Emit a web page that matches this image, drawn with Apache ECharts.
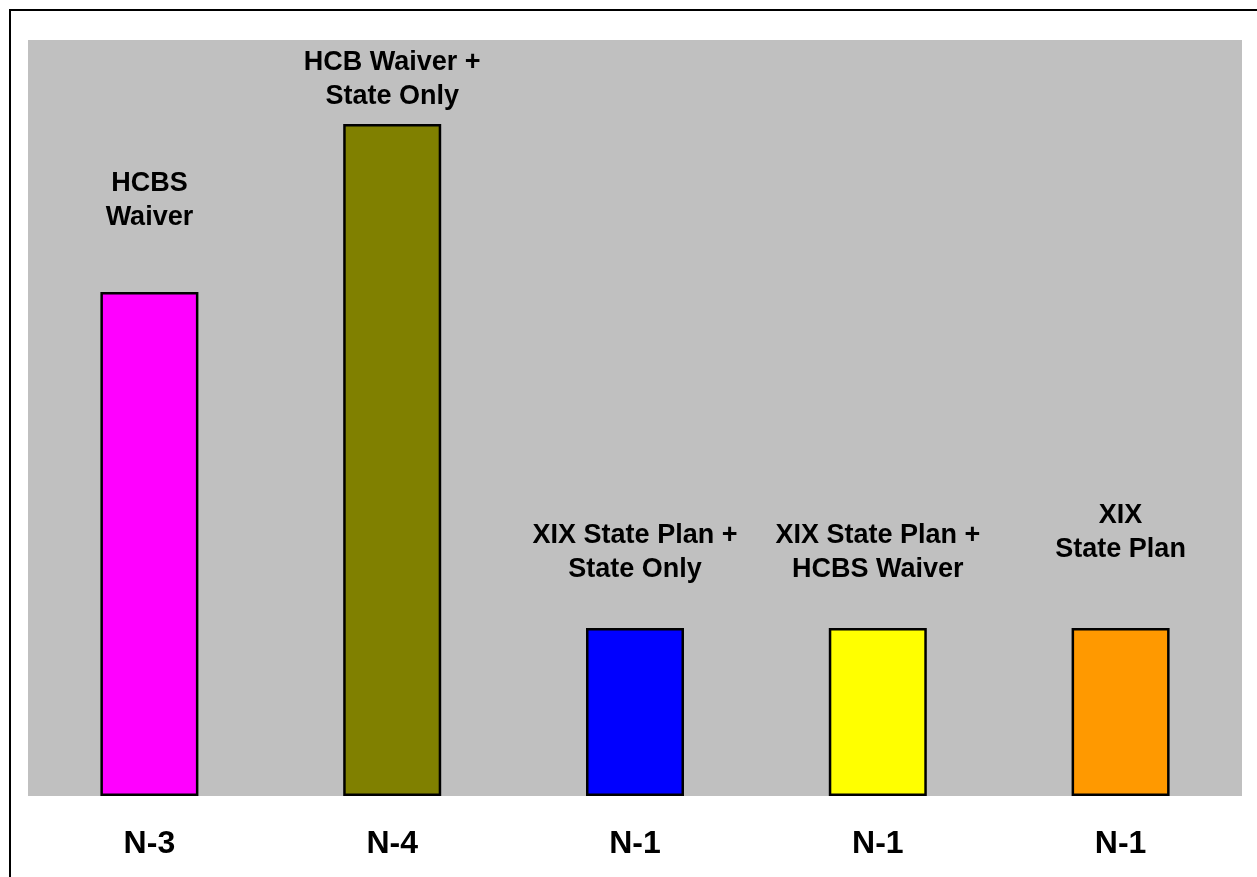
<!DOCTYPE html>
<html>
<head>
<meta charset="utf-8">
<script src="https://cdn.jsdelivr.net/npm/echarts@6/dist/echarts.min.js"></script>
<style>
  html, body { margin: 0; padding: 0; background: #ffffff; }
  #chart { width: 1257px; height: 877px; }
</style>
</head>
<body>
<div id="chart"></div>
<script>
// Sample-size labels shown under each bar
const sampleLabels = ['N-3', 'N-4', 'N-1', 'N-1', 'N-1'];
// Funding arrangement named above each bar
const programs = [
  'HCBS\nWaiver',
  'HCB Waiver +\nState Only',
  'XIX State Plan +\nState Only',
  'XIX State Plan +\nHCBS Waiver',
  'XIX\nState Plan'
];
// Number of cases per arrangement
const counts = [3, 4, 1, 1, 1];
// Bar fill colours
const barColors = ['#FF00FF', '#808000', '#0000FF', '#FFFF00', '#FF9900'];
// Gap between each bar top and its name
const labelGap = [57, 10, 41, 41, 61];

const chart = echarts.init(document.getElementById('chart'), null, { renderer: 'canvas' });

const seriesData = counts.map((v, i) => ({
  value: v,
  itemStyle: { color: barColors[i] },
  label: { distance: labelGap[i] }
}));

chart.setOption({
  animation: false,
  backgroundColor: '#ffffff',
  graphic: [{
    type: 'rect',
    shape: { x: 10, y: 10, width: 1400, height: 1000 },
    style: { fill: 'none', stroke: '#000000', lineWidth: 2 },
    silent: true,
    z: 100
  }],
  grid: {
    left: 28, right: 15, top: 40, bottom: 81,
    show: true,
    backgroundColor: '#C0C0C0',
    borderWidth: 0
  },
  xAxis: {
    type: 'category',
    data: sampleLabels,
    axisLine: { show: false },
    axisTick: { show: false },
    splitLine: { show: false },
    axisLabel: {
      interval: 0,
      margin: 32,
      color: '#000000',
      fontFamily: '"Liberation Sans", Arial, sans-serif',
      fontWeight: 'bold',
      fontSize: 32
    }
  },
  yAxis: {
    type: 'value',
    min: 0,
    max: 4.5,
    show: false,
    splitLine: { show: false }
  },
  series: [{
    type: 'bar',
    data: seriesData,
    barWidth: 98,
    itemStyle: { borderColor: '#000000', borderWidth: 2.5 },
    label: {
      show: true,
      position: 'top',
      formatter: p => programs[p.dataIndex],
      color: '#000000',
      fontFamily: '"Liberation Sans", Arial, sans-serif',
      fontWeight: 'bold',
      fontSize: 27,
      lineHeight: 34,
      align: 'center'
    }
  }]
});
</script>
</body>
</html>
